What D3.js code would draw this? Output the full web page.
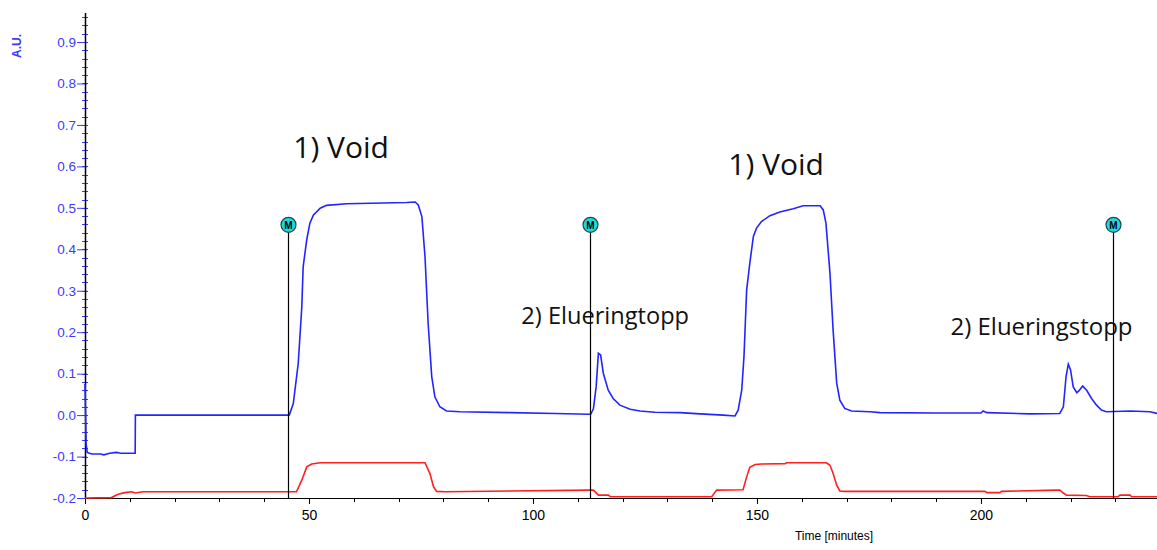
<!DOCTYPE html>
<html>
<head>
<meta charset="utf-8">
<script src="https://cdn.jsdelivr.net/npm/d3@7"></script>
<style>
  body { margin: 0; background: #fff; }
  svg { display: block; }
</style>
</head>
<body>
<div id="svg-wrap"></div>
<script>
// DATA //

//blue trace (UV, A.U.) - time in minutes and value
var blueTime = [0, 0.25, 0.5, 1.5, 3.5, 4.2, 5.5, 7.0, 8.0, 11.2, 11.25,
  45.6, 46.5, 47.6, 48.4, 48.7, 49.5, 50.2, 51.0, 52.5, 53.9, 58.4, 71.8, 73.7, 74.4,
  75.2, 75.9, 76.6, 77.4, 78.1, 79.2, 80.7, 83.7, 95, 105, 112.5,
  112.9, 113.5, 114.1, 114.6, 115.1, 115.7, 116.8, 117.9, 119.4, 121.7, 123.9, 127.2,
  132.8, 137.3, 142.5, 145.1, 145.8, 146.6, 147.1, 147.7, 148.4, 149.2, 149.9, 151.0,
  152.9, 155.1, 158.1, 160.3, 164.1, 164.8, 165.4, 166.3, 167.0, 167.8, 168.5, 169.6,
  171.1, 175.2, 177.5, 190, 200, 200.5, 201.3, 210.9, 217.6, 218.4, 219.0, 219.5,
  220.0, 220.6, 221.4, 221.9, 222.7, 223.6, 224.7, 225.8, 226.9, 228.0, 233.3, 237.7, 239.3];
var blueValue = [0.075, -0.07, -0.09, -0.094, -0.094, -0.096, -0.092, -0.090, -0.092, -0.092, 0.0,
  0.0, 0.028, 0.125, 0.262, 0.358, 0.423, 0.463, 0.483, 0.499, 0.506, 0.510, 0.513, 0.514, 0.507,
  0.479, 0.382, 0.221, 0.093, 0.044, 0.020, 0.010, 0.008, 0.006, 0.004, 0.002,
  0.002, 0.016, 0.068, 0.149, 0.145, 0.101, 0.060, 0.040, 0.024, 0.014, 0.010, 0.007,
  0.006, 0.003, 0.0, -0.002, 0.012, 0.060, 0.141, 0.302, 0.366, 0.431, 0.451, 0.467,
  0.481, 0.490, 0.498, 0.505, 0.505, 0.495, 0.463, 0.342, 0.205, 0.077, 0.036, 0.016,
  0.010, 0.008, 0.006, 0.005, 0.005, 0.010, 0.006, 0.003, 0.004, 0.020, 0.093, 0.123,
  0.109, 0.068, 0.054, 0.059, 0.070, 0.060, 0.040, 0.024, 0.012, 0.008, 0.010, 0.008, 0.004];

//red trace
var redTime = [0, 5.9, 7.4, 8.9, 10.4, 11.2, 13.0, 47.2, 48.4, 49.5, 50.6, 52.5, 75.9, 77.0,
  77.8, 78.5, 80.4, 112.7, 113.5, 114.6, 116.8, 117.3, 139.9, 141.0, 146.9, 147.7, 148.4,
  149.6, 151.0, 156.3, 156.6, 165.5, 166.3, 167.0, 167.8, 168.5, 169.3, 200.9, 201.3,
  204.2, 204.6, 216.9, 217.6, 218.4, 219.1, 223.5, 224.3, 230.6, 231.0, 233.3, 233.6, 239.3];
var redValue = [-0.200, -0.199, -0.191, -0.187, -0.185, -0.188, -0.185, -0.185, -0.157, -0.125,
  -0.118, -0.115, -0.115, -0.141, -0.173, -0.184, -0.185, -0.181, -0.181, -0.193, -0.193,
  -0.197, -0.197, -0.181, -0.180, -0.149, -0.126, -0.119, -0.118, -0.117, -0.115, -0.115,
  -0.121, -0.141, -0.169, -0.183, -0.184, -0.184, -0.187, -0.187, -0.184, -0.181, -0.181,
  -0.188, -0.193, -0.194, -0.197, -0.197, -0.193, -0.193, -0.197, -0.197];

//event markers ("M")
var markerTime = [45.3, 112.7, 229.5];
var markerLevel = 0.459;

//annotations
var noteText = ["1) Void", "2) Elueringtopp", "1) Void", "2) Elueringstopp"];
var noteTime = [46.5, 97.4, 143.6, 193.2];
var noteValue = [0.62, 0.219, 0.578, 0.194];
var noteSize = [30, 23.6, 30, 24];

var xTicks = [0, 50, 100, 150, 200];
var yTicks = [-0.2, -0.1, 0.0, 0.1, 0.2, 0.3, 0.4, 0.5, 0.6, 0.7, 0.8, 0.9];

// CHART //

var w = 1157, h = 550;
var blue = "#2424ff", red = "#ff1f1f", tickBlue = "#3b3bff";

var svg = d3.select("#svg-wrap")
            .append("svg")
            .attr("width", w)
            .attr("height", h)
            .style("font-family", "Arial, 'Liberation Sans', sans-serif");

var x = d3.scaleLinear().domain([0, 239.3]).range([85, 1157]);
var y = d3.scaleLinear().domain([-0.2, 0.97]).range([498, 13]);

//y axis: blue ticks, black spine, minor ticks every 0.02
var yMinor = d3.range(-0.2, 0.961, 0.02);
svg.append("g")
   .selectAll("line")
   .data(yMinor)
   .enter()
   .append("line")
   .attr("x1", 82).attr("x2", 88)
   .attr("y1", function(d){ return Math.round(y(d)) + 0.5; })
   .attr("y2", function(d){ return Math.round(y(d)) + 0.5; })
   .attr("stroke", tickBlue);

var yAxis = svg.append("g")
               .attr("transform", "translate(85,0)")
               .call(d3.axisLeft(y).tickValues(yTicks).tickSize(8).tickFormat(d3.format(".1f")));
yAxis.select(".domain").remove();
yAxis.selectAll(".tick line").attr("stroke", tickBlue).attr("x2", -8).attr("x1", 2);
yAxis.selectAll(".tick text")
     .attr("fill", tickBlue)
     .attr("x", -9)
     .style("font-size", "13.5px")
     .text(function(d){ return d3.format(".1f")(d).replace("−", "-"); });

svg.append("line")
   .attr("x1", 85.5).attr("x2", 85.5)
   .attr("y1", 13).attr("y2", 499)
   .attr("stroke", "#000")
   .attr("stroke-width", 1.5);

//x axis
var xMinor = d3.range(0, 240, 10);
svg.append("g")
   .selectAll("line")
   .data(xMinor)
   .enter()
   .append("line")
   .attr("x1", function(d){ return Math.round(x(d)) + 0.5; })
   .attr("x2", function(d){ return Math.round(x(d)) + 0.5; })
   .attr("y1", 498).attr("y2", 502)
   .attr("stroke", "#000");

var xAxis = svg.append("g")
               .attr("transform", "translate(0,498)")
               .call(d3.axisBottom(x).tickValues(xTicks).tickSize(6).tickPadding(6));
xAxis.select(".domain").remove();
xAxis.selectAll(".tick text").attr("fill", "#000").style("font-size", "14px");

svg.append("line")
   .attr("x1", 85).attr("x2", w)
   .attr("y1", 498.5).attr("y2", 498.5)
   .attr("stroke", "#000")
   .attr("stroke-width", 1.2);

//axis titles
svg.append("text")
   .attr("transform", "translate(21,46) rotate(-90)")
   .attr("text-anchor", "middle")
   .attr("fill", tickBlue)
   .style("font-size", "12px")
   .style("font-weight", "bold")
   .text("A.U.");

svg.append("text")
   .attr("x", 834).attr("y", 540)
   .attr("text-anchor", "middle")
   .attr("fill", "#000")
   .style("font-size", "12px")
   .text("Time [minutes]");

//traces
var line = d3.line()
             .x(function(d){ return x(d[0]); })
             .y(function(d){ return y(d[1]); });

svg.append("path")
   .datum(d3.zip(redTime, redValue))
   .attr("d", line)
   .attr("fill", "none")
   .attr("stroke", red)
   .attr("stroke-width", 1.6);

svg.append("path")
   .datum(d3.zip(blueTime, blueValue))
   .attr("d", line)
   .attr("fill", "none")
   .attr("stroke", blue)
   .attr("stroke-width", 1.6);

//markers
var markers = svg.append("g")
                 .selectAll(".marker")
                 .data(markerTime)
                 .enter()
                 .append("g")
                 .attr("class", "marker")
                 .attr("transform", function(d){ return "translate(" + (Math.round(x(d)) + 0.5) + ",0)"; });

markers.append("line")
       .attr("y1", y(markerLevel) + 7).attr("y2", 498)
       .attr("stroke", "#000")
       .attr("stroke-width", 1.2);

markers.append("circle")
       .attr("cy", y(markerLevel))
       .attr("r", 7.5)
       .attr("fill", "#22d8e0")
       .attr("stroke", "#1a4a4a")
       .attr("stroke-width", 1.2);

markers.append("text")
       .attr("y", y(markerLevel) + 4)
       .attr("text-anchor", "middle")
       .attr("fill", "#000")
       .style("font-size", "10px")
       .style("font-weight", "bold")
       .text("M");

//annotations
svg.append("g")
   .selectAll("text")
   .data(noteText)
   .enter()
   .append("text")
   .attr("x", function(d, i){ return x(noteTime[i]); })
   .attr("y", function(d, i){ return y(noteValue[i]); })
   .attr("fill", "#111")
   .style("font-family", "'Open Sans', sans-serif")
   .style("font-size", function(d, i){ return noteSize[i] + "px"; })
   .text(function(d){ return d; });
</script>
</body>
</html>
